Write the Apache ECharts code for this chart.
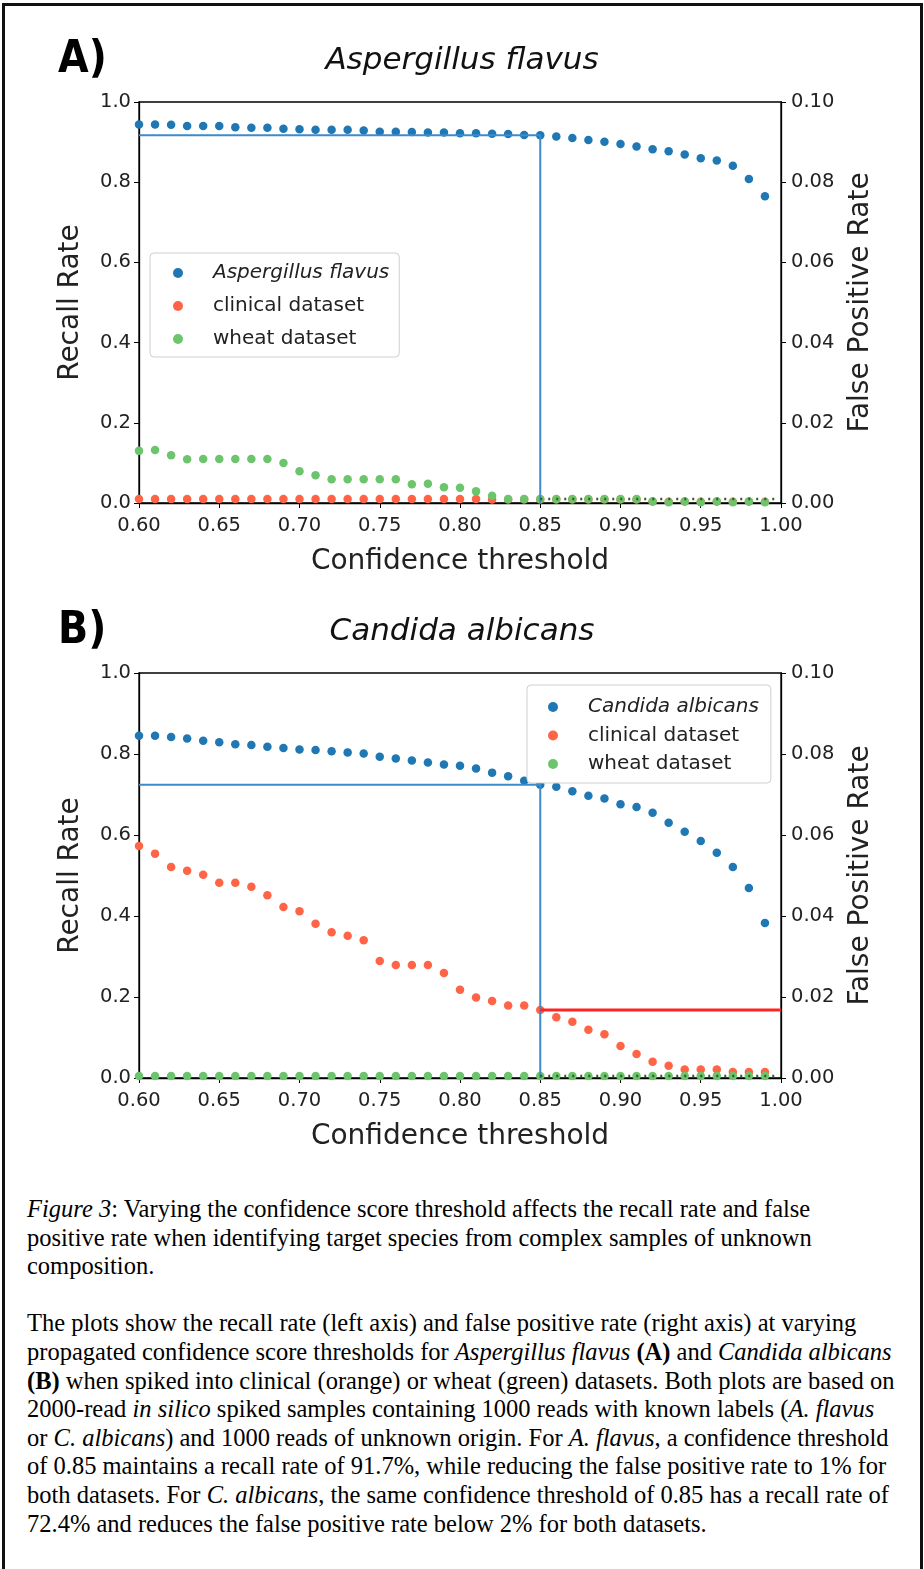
<!DOCTYPE html>
<html>
<head>
<meta charset="utf-8">
<script src="https://cdn.jsdelivr.net/npm/echarts@6/dist/echarts.min.js"></script>
<style>
  body { margin: 0; background: #fff; }
  #page { position: relative; width: 924px; height: 1569px; overflow: hidden; }
  #frame { position: absolute; left: 2px; top: 3px; width: 921px; height: 1580px;
           border: 3px solid #111; border-bottom: none; box-sizing: border-box; }
  #chart { position: absolute; left: 0; top: 0; width: 924px; height: 1160px; }
  #caption { position: absolute; left: 27px; top: 1195px; width: 900px;
             font-family: "Liberation Serif", "Times New Roman", serif; font-size: 24.5px;
             line-height: 28.6px; color: #000; white-space: nowrap; }
</style>
</head>
<body>
<div id="page">
  <div id="chart"></div>
  <div id="caption">
    <i>Figure 3</i>: Varying the confidence score threshold affects the recall rate and false<br>
    positive rate when identifying target species from complex samples of unknown<br>
    composition.<br>
    <br>
    The plots show the recall rate (left axis) and false positive rate (right axis) at varying<br>
    propagated confidence score thresholds for <i>Aspergillus flavus</i> <b>(A)</b> and <i>Candida albicans</i><br>
    <b>(B)</b> when spiked into clinical (orange) or wheat (green) datasets. Both plots are based on<br>
    2000-read <i>in silico</i> spiked samples containing 1000 reads with known labels (<i>A. flavus</i><br>
    or <i>C. albicans</i>) and 1000 reads of unknown origin. For <i>A. flavus</i>, a confidence threshold<br>
    of 0.85 maintains a recall rate of 91.7%, while reducing the false positive rate to 1% for<br>
    both datasets. For <i>C. albicans</i>, the same confidence threshold of 0.85 has a recall rate of<br>
    72.4% and reduces the false positive rate below 2% for both datasets.
  </div>
  <div id="frame"></div>
</div>
<script>
// confidence thresholds (x)
var thresholds = [0.60, 0.61, 0.62, 0.63, 0.64, 0.65, 0.66, 0.67, 0.68, 0.69,
                  0.70, 0.71, 0.72, 0.73, 0.74, 0.75, 0.76, 0.77, 0.78, 0.79,
                  0.80, 0.81, 0.82, 0.83, 0.84, 0.85, 0.86, 0.87, 0.88, 0.89,
                  0.90, 0.91, 0.92, 0.93, 0.94, 0.95, 0.96, 0.97, 0.98, 0.99];
var chosenThreshold = 0.85;

// A) Aspergillus flavus
var recallA = [0.944, 0.944, 0.943, 0.940, 0.940, 0.940, 0.937, 0.936, 0.936, 0.933,
               0.932, 0.931, 0.931, 0.931, 0.929, 0.926, 0.926, 0.925, 0.924, 0.924,
               0.922, 0.922, 0.921, 0.920, 0.918, 0.917, 0.914, 0.910, 0.905, 0.901,
               0.895, 0.889, 0.882, 0.877, 0.869, 0.860, 0.854, 0.841, 0.808, 0.765];
var clinicalA = [0.0010, 0.0010, 0.0010, 0.0010, 0.0010, 0.0010, 0.0010, 0.0010, 0.0010, 0.0010,
                 0.0010, 0.0010, 0.0010, 0.0010, 0.0010, 0.0010, 0.0010, 0.0010, 0.0010, 0.0010,
                 0.0010, 0.0010, 0.0009, 0.0009, 0.0009, 0.0009, 0.0009, 0.0009, 0.0009, 0.0009,
                 0.0009, 0.0009, 0.0004, 0.0003, 0.0004, 0.0003, 0.0004, 0.0003, 0.0004, 0.0003];
var wheatA = [0.0130, 0.0132, 0.0119, 0.0109, 0.0110, 0.0110, 0.0110, 0.0110, 0.0110, 0.0100,
              0.0079, 0.0069, 0.0059, 0.0059, 0.0059, 0.0059, 0.0059, 0.0047, 0.0048, 0.0039,
              0.0038, 0.0029, 0.0018, 0.0010, 0.0010, 0.0010, 0.0010, 0.0010, 0.0010, 0.0010,
              0.0010, 0.0010, 0.0004, 0.0002, 0.0004, 0.0002, 0.0004, 0.0002, 0.0004, 0.0002];

// B) Candida albicans
var recallB = [0.845, 0.845, 0.842, 0.838, 0.833, 0.829, 0.824, 0.822, 0.818, 0.815,
               0.811, 0.810, 0.807, 0.804, 0.801, 0.793, 0.789, 0.784, 0.779, 0.774,
               0.771, 0.764, 0.754, 0.745, 0.734, 0.724, 0.719, 0.708, 0.697, 0.690,
               0.676, 0.669, 0.655, 0.630, 0.608, 0.585, 0.556, 0.521, 0.469, 0.383];
var clinicalB = [0.0573, 0.0554, 0.0521, 0.0512, 0.0502, 0.0482, 0.0482, 0.0472, 0.0451, 0.0422,
                 0.0412, 0.0381, 0.0360, 0.0351, 0.0340, 0.0289, 0.0279, 0.0279, 0.0279, 0.0259,
                 0.0218, 0.0199, 0.0190, 0.0179, 0.0179, 0.0168, 0.0150, 0.0139, 0.0119, 0.0108,
                 0.0079, 0.0059, 0.0040, 0.0030, 0.0021, 0.0021, 0.0021, 0.0015, 0.0015, 0.0015];
var wheatB = [0.0005, 0.0005, 0.0005, 0.0005, 0.0005, 0.0005, 0.0005, 0.0005, 0.0005, 0.0005,
              0.0005, 0.0005, 0.0005, 0.0005, 0.0005, 0.0005, 0.0005, 0.0005, 0.0005, 0.0005,
              0.0005, 0.0005, 0.0005, 0.0005, 0.0005, 0.0005, 0.0005, 0.0005, 0.0005, 0.0005,
              0.0005, 0.0005, 0.0005, 0.0005, 0.0005, 0.0005, 0.0005, 0.0005, 0.0005, 0.0005];

var xTicks = ["0.60", "0.65", "0.70", "0.75", "0.80", "0.85", "0.90", "0.95", "1.00"];

var BLUE = "#1f77b4", ORANGE = "#ff6446", GREEN = "#6cc56c";
var FONT = "DejaVu Sans";
var TXT = "#222";

function pairs(ys) {
  return thresholds.map(function (x, i) { return [x, ys[i]]; });
}

var chart = echarts.init(document.getElementById("chart"));
var idx = thresholds.indexOf(chosenThreshold);

var grids = [
  { left: 139, width: 642, top: 102, height: 401 },
  { left: 139, width: 642, top: 673, height: 405 }
];

var panels = [
  { letter: "A)", species: "Aspergillus flavus", recall: recallA, clinical: clinicalA, wheat: wheatA,
    legend: { left: 150, top: 253, padding: [10, 10, 8, 23], itemGap: 13 }, redLine: false },
  { letter: "B)", species: "Candida albicans", recall: recallB, clinical: clinicalB, wheat: wheatB,
    legend: { left: 527, top: 685, padding: [12, 12, 9, 21], itemGap: 8.5 }, redLine: true }
];

var option = {
  animation: false,
  textStyle: { fontFamily: FONT },
  title: [], grid: [], xAxis: [], yAxis: [], legend: [], series: []
};

panels.forEach(function (p, k) {
  var g = grids[k];
  option.grid.push({ left: g.left, width: g.width, top: g.top, height: g.height,
                     show: true, borderColor: "#000", borderWidth: 1.3, backgroundColor: "#fff" });
  option.title.push({ text: p.species, left: 457, top: g.top - 62, textAlign: "center",
                      textStyle: { fontFamily: FONT, fontSize: 31, fontStyle: "italic", fontWeight: "normal", color: "#111" } });
  option.title.push({ text: p.letter, left: 53, top: g.top - 68,
                      textStyle: { fontFamily: "'DejaVu Sans Condensed', 'Liberation Sans Narrow', sans-serif",
                                   fontSize: 44, fontWeight: "bold", color: "#000" } });

  option.xAxis.push({
    type: "value", gridIndex: k, min: 0.6, max: 1.0, interval: 0.05,
    name: "Confidence threshold", nameLocation: "middle", nameGap: 45,
    nameTextStyle: { fontSize: 28, color: TXT },
    axisLine: { lineStyle: { color: "#000", width: 1.3 } },
    axisTick: { inside: false, length: 5, lineStyle: { color: "#000" } },
    splitLine: { show: false },
    axisLabel: { fontSize: 19.5, color: TXT, margin: 13,
                 formatter: function (v) { return xTicks[Math.round((v - 0.6) / 0.05)]; } }
  });
  option.yAxis.push({
    type: "value", gridIndex: k, min: 0, max: 1, interval: 0.2, position: "left",
    name: "Recall Rate", nameLocation: "middle", nameGap: 54, nameRotate: 90,
    nameTextStyle: { fontSize: 28, color: TXT },
    axisLine: { show: true, lineStyle: { color: "#000", width: 1.3 } },
    axisTick: { show: true, inside: false, length: 5, lineStyle: { color: "#000" } },
    splitLine: { show: false },
    axisLabel: { fontSize: 19.5, color: TXT, margin: 8, formatter: function (v) { return v.toFixed(1); } }
  });
  option.yAxis.push({
    type: "value", gridIndex: k, min: 0, max: 0.1, interval: 0.02, position: "right",
    name: "False Positive Rate", nameLocation: "middle", nameGap: 66, nameRotate: 90,
    nameTextStyle: { fontSize: 28, color: TXT },
    axisLine: { show: true, lineStyle: { color: "#000", width: 1.3 } },
    axisTick: { show: true, inside: false, length: 5, lineStyle: { color: "#000" } },
    splitLine: { show: false },
    axisLabel: { fontSize: 19.5, color: TXT, margin: 10, formatter: function (v) { return v.toFixed(2); } }
  });

  var yL = 2 * k, yR = 2 * k + 1;
  var names = [p.species, "clinical dataset", "wheat dataset"];
  option.legend.push({
    orient: "vertical", left: p.legend.left, top: p.legend.top, padding: p.legend.padding,
    itemGap: p.legend.itemGap, itemWidth: 10, itemHeight: 10, icon: "circle",
    backgroundColor: "#fff", borderColor: "#cfcfcf", borderWidth: 1, borderRadius: 4,
    data: names, selectedMode: false,
    formatter: function (n) { return n === p.species ? "{i|" + n + "}" : "{n|" + n + "}"; },
    textStyle: { fontSize: 20, color: TXT, padding: [0, 0, 0, 25],
                 rich: { i: { fontSize: 20, fontStyle: "italic", color: TXT, fontFamily: FONT },
                         n: { fontSize: 20, color: TXT, fontFamily: FONT } } }
  });

  option.series.push({ name: names[0], type: "scatter", xAxisIndex: k, yAxisIndex: yL,
                       data: pairs(p.recall), symbolSize: 8.5, itemStyle: { color: BLUE, opacity: 1 }, z: 3 });
  option.series.push({ name: names[1], type: "scatter", xAxisIndex: k, yAxisIndex: yR,
                       data: pairs(p.clinical), symbolSize: 8.5, itemStyle: { color: ORANGE, opacity: 1 }, z: 3 });
  option.series.push({ name: names[2], type: "scatter", xAxisIndex: k, yAxisIndex: yR,
                       data: pairs(p.wheat), symbolSize: 8.5, itemStyle: { color: GREEN, opacity: 1 }, z: 3 });

  // threshold guides
  var r = p.recall[idx];
  option.series.push({ type: "line", xAxisIndex: k, yAxisIndex: yL, symbol: "none", silent: true, z: 4,
                       lineStyle: { color: "#3d8bcb", width: 2 },
                       data: [[thresholds[0], r], [chosenThreshold, r], [chosenThreshold, 0]] });
  option.series.push({ type: "line", xAxisIndex: k, yAxisIndex: yR, symbol: "none", silent: true, z: 4,
                       lineStyle: { color: "#2f5e22", width: 2.5, type: [2, 6] },
                       data: [[chosenThreshold, p.wheat[idx]], [1.0, p.wheat[idx]]] });
  if (p.redLine) {
    option.series.push({ type: "line", xAxisIndex: k, yAxisIndex: yR, symbol: "none", silent: true, z: 4,
                         lineStyle: { color: "#ff2424", width: 3 },
                         data: [[chosenThreshold, p.clinical[idx]], [1.0, p.clinical[idx]]] });
  }
});

chart.setOption(option);
</script>
</body>
</html>
